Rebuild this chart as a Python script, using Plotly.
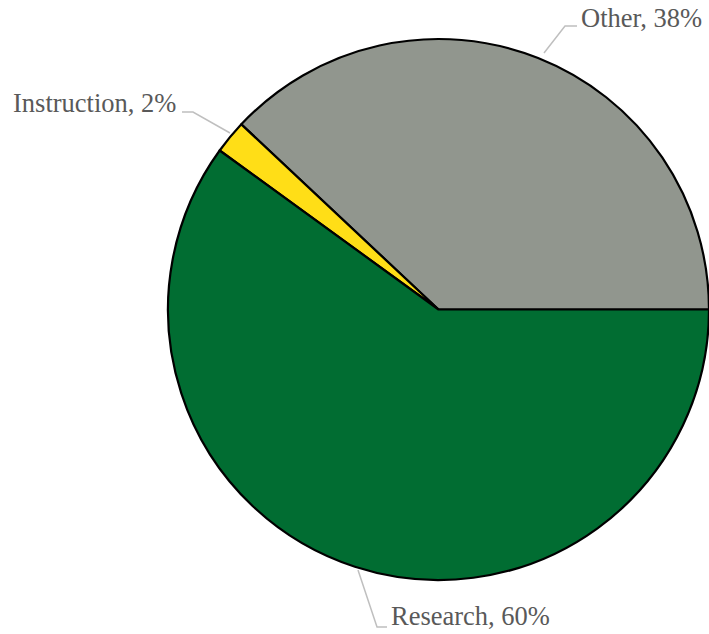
import plotly.graph_objects as go

labels = ["Other", "Instruction", "Research"]
values = [38, 2, 60]
colors = ["#91968E", "#FFDE17", "#016D32"]

W, H = 709, 634

def px(x):
    return x / W

def py(y):
    return 1 - y / H

total = sum(values)
# first slice begins at 3 o'clock and runs counterclockwise
rotation = 90 - 360 * values[0] / total

fig = go.Figure()
fig.add_trace(go.Pie(
    labels=labels,
    values=values,
    sort=False,
    direction="counterclockwise",
    rotation=rotation,
    marker=dict(colors=colors, line=dict(color="#000000", width=2.2)),
    textinfo="none",
    hoverinfo="label+percent",
    showlegend=False,
    domain=dict(x=[px(168), 1.0], y=[py(583), py(36)]),
))

label_pos = {
    "Other": dict(x=579, y=18, anchor="left",
                  path=[(544, 53), (565, 26), (577, 26)]),
    "Instruction": dict(x=178, y=103, anchor="right",
                        path=[(230, 133), (193, 112), (182, 112)]),
    "Research": dict(x=389, y=616, anchor="left",
                     path=[(358, 570), (377, 627), (387, 627)]),
}

for lab, val in zip(labels, values):
    p = label_pos[lab]
    pts = p["path"]
    d = "M " + " L ".join(f"{px(a)},{py(b)}" for a, b in pts)
    fig.add_shape(type="path", path=d, xref="paper", yref="paper",
                  line=dict(color="#BFBFBF", width=1.5))
    fig.add_annotation(
        x=px(p["x"]), y=py(p["y"]), xref="paper", yref="paper",
        text=f"{lab}, {round(val / total * 100)}%",
        showarrow=False, xanchor=p["anchor"], yanchor="middle",
        font=dict(family="Liberation Serif", size=26.5, color="#595959"),
    )

fig.update_layout(
    width=W, height=H,
    margin=dict(l=0, r=0, t=0, b=0),
    paper_bgcolor="white",
    plot_bgcolor="white",
)

fig.write_html(
    "out.html",
    config={"displayModeBar": False},
    post_script="document.body.style.margin='0';document.body.style.overflow='hidden';",
)
